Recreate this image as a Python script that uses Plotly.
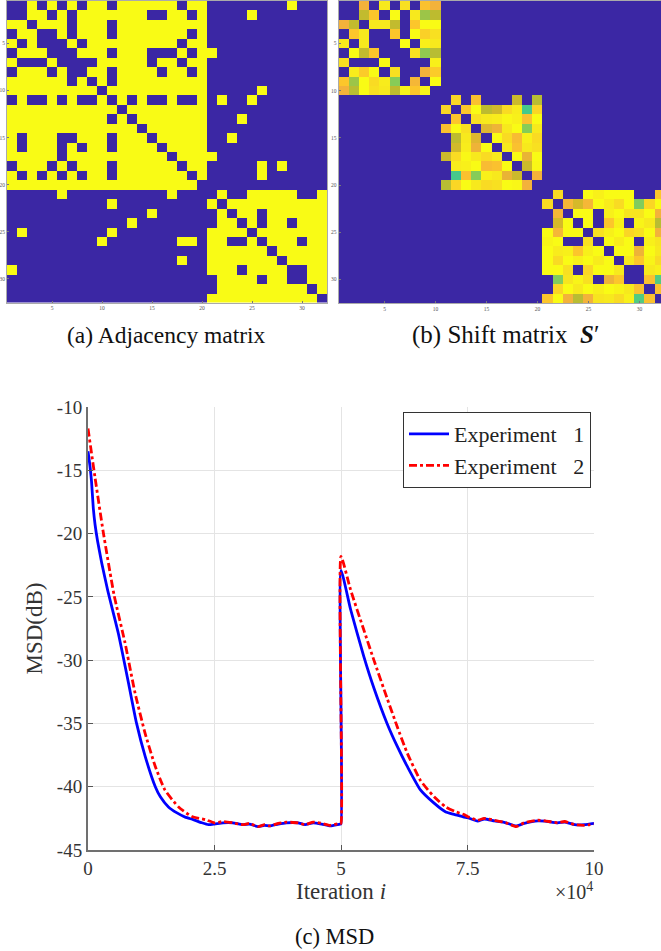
import plotly.graph_objects as go

W, H = 661, 951

# ---------- data ----------
ADJ_LEFT = ["00101010110111111011","00110101111111001101","11011101110111111111","01100101110111111101",
"10100010111111111011","01110001110111000101","10001000011111011011","01110100110111101101",
"11111101010111111111","11111111101111111111","01001010010101001001","11111111111011111111",
"11111111110101111111","11111111111110111111","10111001110111011111","10111010110111101111",
"11111011111111110111","01110101110111111011","10101010110111111101","11111111111111111110",
"00000100000000001000","00000000001000000000","00000000000000100000","00000000000010000000",
"01000000001000000000","00000000010000000110","00000000000000000000","00000000000000000100",
"10000000000000000000","00000000000000000000","00000000000000000000","00000000000000000000"]
ADJ_RIGHT = ["000000001000","000010000000","000000000000","000000000000","000000000000","100000000000",
"000000000000","000000000000","000000000000","000001000000","010010000000","000000000000",
"000100000000","000000000000","001000000000","000000000000","100000000000","000001010000",
"000001000000","000000000000","010011111001","101111111111","010110111111","011010110111",
"111101111111","110010111011","111111011111","111111101111","111011110011","011110110011",
"011111111101","111111111110"]

S_BLOCK1 = [
[0,0,.84,0,.95,0,.93,0,.87,.84],
[0,0,.74,.88,0,1,0,.95,.67,.73],
[.84,.74,0,.95,.95,.74,0,.88,1,1],
[0,.88,.95,0,0,.88,0,1,.9,.93],
[.95,0,.95,0,0,0,1,0,.97,.95],
[0,1,.74,.88,0,0,0,.93,.65,.72],
[.93,0,0,0,1,0,0,0,0,.97],
[0,.96,.89,1,0,.93,0,0,.84,.89],
[.88,.67,1,.92,.96,.63,0,.85,0,1],
[.84,.72,1,.93,.95,.73,.98,.88,.98,0]]
S_BLOCK2 = [
[0,.91,0,.87,0,0,0,.76,0,.72],
[.91,0,.88,1,.73,.77,.92,.96,.52,.91],
[0,.88,0,.93,.95,.96,.99,.97,.87,1],
[.87,1,.93,0,.8,.83,.95,1,.63,.95],
[0,.73,.95,.8,0,1,.92,.86,.97,.92],
[0,.77,.96,.83,1,0,.95,.87,.95,.93],
[.76,.92,.99,.95,.92,.95,0,1,.82,1],
[0,.96,.97,1,.86,.87,1,0,.76,.99],
[0,.52,.87,.63,.97,.95,.82,.76,0,.84],
[.72,.91,1,.95,.92,.93,1,.99,.84,0]]
S_BLOCK3 = [
[0,.92,0,0,1,.97,1,1,1,0,0,.88],
[.92,0,.85,.78,.85,1,.96,.92,1,.62,.91,1],
[0,.85,0,1,1,0,.97,1,.94,.94,1,.84],
[0,.78,1,0,1,0,.88,.97,0,.98,.95,.72],
[1,.85,1,1,0,.93,.97,1,.91,.93,1,.84],
[.98,1,0,0,.93,0,1,.96,1,0,.97,.94],
[1,.96,.97,.88,.97,1,0,1,1,.83,1,.95],
[1,.92,1,.97,1,.96,1,0,.95,.88,.98,.92],
[1,1,.93,0,.91,1,1,.95,0,0,.95,.97],
[0,.62,.94,.98,.93,0,.83,.88,0,0,.87,.54],
[0,.91,1,.95,1,.97,1,.98,.95,.87,0,.87],
[.88,1,.84,.72,.84,.94,.95,.92,.97,.54,.87,0]]

ITER_BLUE = [0,.04,.07,.105,.14,.19,.27,.39,.60,.80,.96,1.13,1.33,1.43,1.59,1.75,1.92,2.08,2.25,2.38,2.5,2.67,2.86,3.06,3.19,3.36,3.49,3.59,3.76,3.92,4.15,4.29,4.45,4.62,4.79,4.98,
 5.0,5.0,5.19,5.45,5.65,5.91,6.11,6.31,6.57,6.84,7.07,7.25,7.43,7.5,7.70,7.83,8.03,8.26,8.46,8.62,8.89,9.03,9.28,9.42,9.62,9.81,10]
MSD_BLUE = [-13.5,-14.7,-15.9,-18.0,-19.3,-20.6,-22.3,-24.5,-27.9,-31.8,-35.0,-37.6,-40.0,-40.8,-41.6,-42.05,-42.4,-42.6,-42.85,-43.0,-42.95,-42.85,-42.85,-43.0,-42.95,-43.15,-43.05,-43.1,-42.95,-42.85,-42.85,-43.0,-42.85,-42.95,-43.1,-42.95,
 -42.95,-22.9,-26.0,-29.7,-32.2,-35.0,-36.8,-38.4,-40.25,-41.3,-42.0,-42.2,-42.4,-42.45,-42.72,-42.55,-42.7,-42.85,-43.1,-42.9,-42.7,-42.72,-42.85,-42.8,-43.0,-43.0,-42.9]
ITER_RED = [0,.14,.30,.515,.73,.93,1.13,1.33,1.52,1.79,2.05,2.32,2.5,2.67,2.86,3.06,3.19,3.36,3.49,3.59,3.76,3.92,4.15,4.29,4.45,4.62,4.79,4.98,
 5.0,5.0,5.19,5.45,5.65,5.91,6.11,6.31,6.57,6.84,7.07,7.25,7.43,7.5,7.70,7.83,8.03,8.26,8.46,8.62,8.89,9.03,9.28,9.42,9.62,9.81,10]
MSD_RED = [-11.7,-15.6,-19.85,-24.85,-28.6,-32.6,-35.8,-38.4,-40.25,-41.6,-42.35,-42.6,-42.85,-42.75,-42.85,-43.0,-42.9,-43.15,-43.0,-43.1,-42.9,-42.8,-42.85,-43.0,-42.8,-42.9,-43.05,-42.9,
 -42.9,-21.8,-24.45,-27.6,-30.0,-33.0,-35.25,-37.35,-39.5,-40.8,-41.6,-41.95,-42.2,-42.35,-42.65,-42.5,-42.65,-42.85,-43.15,-42.85,-42.65,-42.7,-42.85,-42.75,-43.0,-43.05,-42.95]

X_TICKS = [0, 2.5, 5, 7.5, 10]
X_TICK_LABELS = ["0", "2.5", "5", "7.5", "10"]
Y_TICKS = [-45, -40, -35, -30, -25, -20, -15, -10]
Y_TICK_LABELS = [str(v) for v in Y_TICKS]
IMG_TICKS = [5, 10, 15, 20, 25, 30]
CELLS = list(range(1, 33))

# ---------- derived matrices ----------
adjacency = [[int(c) for c in (a + b)] for a, b in zip(ADJ_LEFT, ADJ_RIGHT)]
shift = [[0.0] * 32 for _ in range(32)]
for offset, block in ((0, S_BLOCK1), (10, S_BLOCK2), (20, S_BLOCK3)):
    for i, row in enumerate(block):
        for j, v in enumerate(row):
            shift[offset + i][offset + j] = v

SERIF = "Liberation Serif"
colorscale = [[0, "#3B27A4"], [0.45, "#3B9EB0"], [0.52, "#46C98B"], [0.63, "#86CC58"], [0.73, "#BDBB2F"],
              [0.78, "#D5B92A"], [0.84, "#F3B23B"], [0.88, "#FCC62B"], [0.94, "#F7E51F"], [1, "#F9FB15"]]

def dx(a, b):
    return [a / W, b / W]

def dy(top, bottom):
    return [1 - bottom / H, 1 - top / H]

fig = go.Figure()
fig.add_trace(go.Heatmap(z=adjacency, x=CELLS, y=CELLS, zmin=0, zmax=1, colorscale=colorscale,
                         showscale=False, xaxis="x", yaxis="y"))
fig.add_trace(go.Heatmap(z=shift, x=CELLS, y=CELLS, zmin=0, zmax=1, colorscale=colorscale,
                         showscale=False, xaxis="x2", yaxis="y2"))
fig.add_trace(go.Scatter(x=ITER_BLUE, y=MSD_BLUE, mode="lines", name="Experiment   1",
                         line=dict(color="#0000FF", width=2.8, shape="spline", smoothing=0.5), xaxis="x3", yaxis="y3"))
fig.add_trace(go.Scatter(x=ITER_RED, y=MSD_RED, mode="lines", name="Experiment   2",
                         line=dict(color="#FF0000", width=2.8, dash="8px,3px,3px,3px", shape="spline", smoothing=0.5),
                         xaxis="x3", yaxis="y3"))

def img_axis(domain, rng, anchor):
    return dict(domain=domain, range=rng, anchor=anchor, tickvals=IMG_TICKS, ticktext=[str(v) for v in IMG_TICKS],
                ticks="inside", ticklen=2, tickcolor="#777777", tickwidth=1, automargin=False,
                showline=True, linecolor="#AAAAAA", linewidth=1, mirror=True, showgrid=False, zeroline=False,
                tickfont=dict(family=SERIF, size=5.5, color="#555555"))

layout = dict(
    width=W, height=H, autosize=False, margin=dict(l=0, r=0, t=0, b=0, autoexpand=False),
    paper_bgcolor="white", plot_bgcolor="white",
    xaxis=img_axis(dx(7, 327), [0.5, 32.5], "y"),
    yaxis=img_axis(dy(1, 302.5), [32.5, 0.5], "x"),
    xaxis2=img_axis(dx(338.7, 661), [0.5, 32.1], "y2"),
    yaxis2=img_axis(dy(1, 303), [32.5, 0.5], "x2"),
    xaxis3=dict(domain=dx(88, 594), range=[0, 10], anchor="y3", tickvals=X_TICKS, ticktext=X_TICK_LABELS,
                ticks="inside", ticklen=5, tickcolor="#555555", showline=True, linecolor="#707070", linewidth=2,
                showgrid=True, gridcolor="#E4E4E4", gridwidth=1, zeroline=False, automargin=True,
                tickfont=dict(family=SERIF, size=19, color="#333333"),
                title=dict(text="Iteration <i>i</i>", font=dict(family=SERIF, size=23, color="#333333"), standoff=4)),
    yaxis3=dict(domain=dy(407, 850), range=[-45, -10], anchor="x3", tickvals=Y_TICKS, ticktext=Y_TICK_LABELS,
                ticks="inside", ticklen=5, tickcolor="#555555", showline=True, linecolor="#707070", linewidth=2,
                showgrid=True, gridcolor="#E4E4E4", gridwidth=1, zeroline=False, automargin=True,
                tickfont=dict(family=SERIF, size=19, color="#333333"),
                title=dict(text="MSD(dB)", font=dict(family=SERIF, size=23, color="#333333"), standoff=8)),
    legend=dict(x=591 / W, y=1 - 412 / H, xanchor="right", yanchor="top", bgcolor="white",
                bordercolor="#333333", borderwidth=1, itemwidth=40, tracegroupgap=0,
                font=dict(family=SERIF, size=22, color="#222222")),
    showlegend=True,
    annotations=[
        dict(text="(a) Adjacency matrix", x=166 / W, y=1 - 335 / H, xref="paper", yref="paper", showarrow=False,
             xanchor="center", yanchor="middle", font=dict(family=SERIF, size=23.5, color="#111111")),
        dict(text="(b) Shift matrix  <b><i>S</i></b>′", x=505 / W, y=1 - 335 / H, xref="paper", yref="paper", showarrow=False,
             xanchor="center", yanchor="middle", font=dict(family=SERIF, size=25, color="#111111")),
        dict(text="(c) MSD", x=334 / W, y=1 - 936 / H, xref="paper", yref="paper", showarrow=False,
             xanchor="center", yanchor="middle", font=dict(family=SERIF, size=22.5, color="#111111")),
        dict(text="×10<sup>4</sup>", x=595 / W, y=1 - 891 / H, xref="paper", yref="paper", showarrow=False,
             xanchor="right", yanchor="middle", font=dict(family=SERIF, size=20, color="#333333")),
    ],
)
fig.update_layout(**layout)

fig.write_html("out.html", config=dict(displayModeBar=False, responsive=False),
               post_script="document.body.style.margin='0';document.body.style.overflow='hidden';")
